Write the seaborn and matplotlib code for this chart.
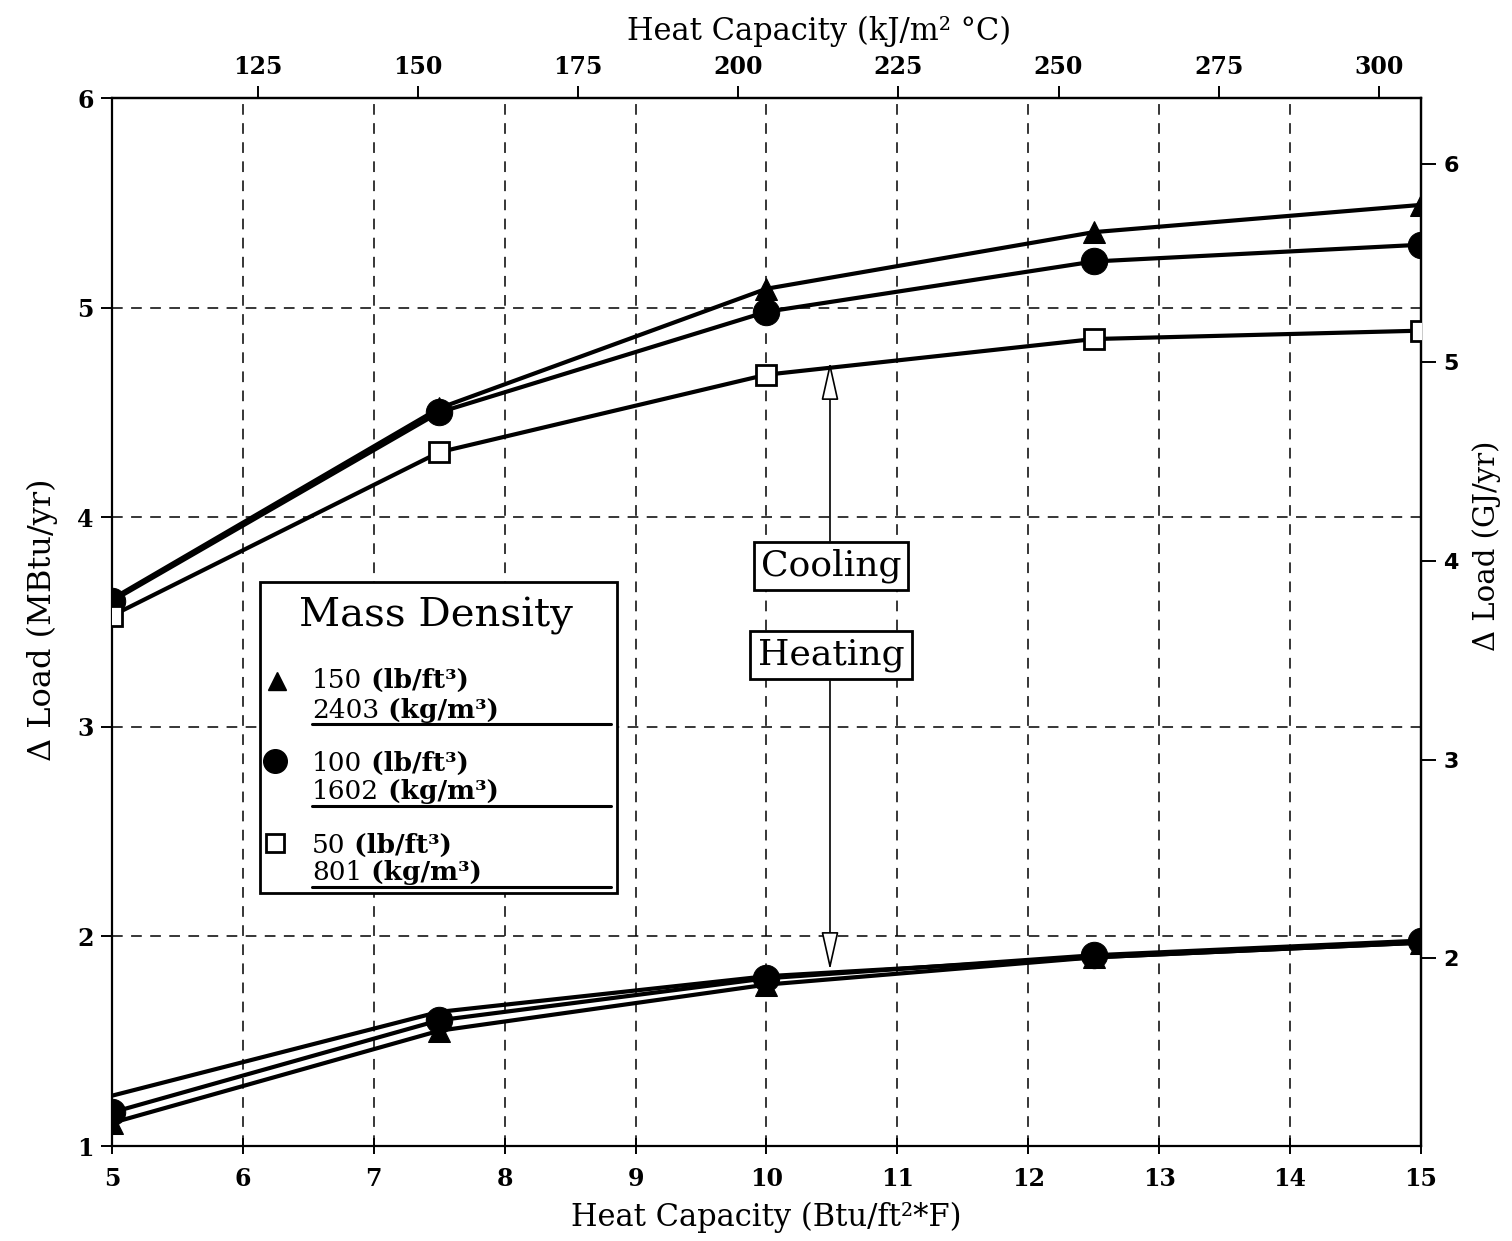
import matplotlib
matplotlib.use("Agg")
import matplotlib.pyplot as plt
import seaborn as sns
from matplotlib.patches import Rectangle
from matplotlib.lines import Line2D

# ---- data -------------------------------------------------------------
heat_capacity = [5, 7.5, 10, 12.5, 15]          # Btu/ft2*F

cooling_150 = [3.61, 4.52, 5.09, 5.36, 5.49]    # MBtu/yr
cooling_100 = [3.60, 4.50, 4.98, 5.22, 5.30]
cooling_50 = [3.53, 4.31, 4.68, 4.85, 4.89]

heating_150 = [1.11, 1.55, 1.77, 1.90, 1.97]
heating_100 = [1.16, 1.60, 1.80, 1.91, 1.98]
heating_50 = [1.24, 1.64, 1.81, 1.90, 1.97]

density_ip = ["150", "100", "50"]
density_si = ["2403", "1602", "801"]

x_ticks = [5, 6, 7, 8, 9, 10, 11, 12, 13, 14, 15]
y_ticks = [1, 2, 3, 4, 5, 6]
si_x_ticks = [125, 150, 175, 200, 225, 250, 275, 300]
si_y_ticks = [2, 3, 4, 5, 6]

KJ_PER_BTU = 20.44     # kJ/m2C per Btu/ft2F
GJ_PER_MBTU = 1.055

# ---- style ------------------------------------------------------------
sns.set_theme(style="ticks")
plt.rcParams["font.family"] = ["DejaVu Serif"]
plt.rcParams.update({
    "axes.linewidth": 1.6,
    "axes.edgecolor": "black",
    "text.color": "black",
    "axes.labelcolor": "black",
    "xtick.color": "black",
    "ytick.color": "black",
})

fig = plt.figure(figsize=(15.12, 12.41), dpi=100)
ax = fig.add_axes([0.07407, 0.07655, 0.86574, 0.84448])
fig.patch.set_facecolor("white")
ax.set_facecolor("white")

ax.set_xlim(5, 15)
ax.set_ylim(1, 6)
ax.set_xticks(x_ticks)
ax.set_yticks(y_ticks)
ax.grid(True, color="black", lw=1.1, ls=(0, (7, 5.5)))
ax.set_axisbelow(True)

styles = {
    "150": dict(marker="^", markersize=16, markerfacecolor="black", markeredgecolor="black"),
    "100": dict(marker="o", markersize=19, markerfacecolor="black", markeredgecolor="black"),
    "50": dict(marker="s", markersize=15, markerfacecolor="white",
               markeredgecolor="black", markeredgewidth=2),
}

series = [
    ("150", cooling_150, True), ("100", cooling_100, True), ("50", cooling_50, True),
    ("150", heating_150, True), ("100", heating_100, True), ("50", heating_50, False),
]
for i, (key, vals, show_marker) in enumerate(series):
    kw = dict(styles[key]) if show_marker else {}
    sns.lineplot(x=heat_capacity, y=vals, ax=ax, color="black", lw=3,
                 legend=False, zorder=3 + i * 0.1, **kw)

# ---- ticks & labels ---------------------------------------------------
ax.tick_params(axis="x", direction="inout", length=12, width=1.4, pad=9,
               labelsize=17)
ax.tick_params(axis="y", direction="out", length=8, width=1.4, pad=5,
               labelsize=17)
ax.set_xticklabels([str(v) for v in x_ticks], fontweight="bold")
ax.set_yticklabels([str(v) for v in y_ticks], fontweight="bold")

ax.set_xlabel("Heat Capacity (Btu/ft²*F)", fontsize=22)
ax.xaxis.set_label_coords(0.4996, -0.053)
ax.set_ylabel("Δ Load (MBtu/yr)", fontsize=23)
ax.yaxis.set_label_coords(-0.041, 0.502)

top = ax.secondary_xaxis("top", functions=(lambda x: x * KJ_PER_BTU,
                                           lambda x: x / KJ_PER_BTU))
top.set_xticks(si_x_ticks)
top.set_xticklabels([str(v) for v in si_x_ticks], fontweight="bold")
top.tick_params(direction="out", length=9, width=1.4, pad=5, labelsize=17)
ax.text(0.540, 1.064, "Heat Capacity (kJ/m² °C)", transform=ax.transAxes,
        ha="center", va="center", fontsize=22)

right = ax.secondary_yaxis("right", functions=(lambda y: y * GJ_PER_MBTU,
                                               lambda y: y / GJ_PER_MBTU))
right.set_yticks(si_y_ticks)
right.set_yticklabels([str(v) for v in si_y_ticks], fontweight="bold",
                      family=["DejaVu Sans"])
right.tick_params(direction="out", length=11, width=1.4, pad=5, labelsize=16)
ax.text(1.050, 0.573, "Δ Load (GJ/yr)", transform=ax.transAxes,
        rotation=90, ha="center", va="center", fontsize=21)


# ---- helper: figure pixel position to data coordinates ----------------
def pos(xp, yp):
    return 5 + (xp - 112) / 130.9, 1 + (1146 - yp) / 209.6


# ---- Cooling / Heating call-outs --------------------------------------
box = dict(boxstyle="square,pad=0.2", fc="white", ec="black", lw=2)
ax.text(*pos(831, 566), "Cooling", ha="center", va="center", fontsize=26,
        bbox=box, zorder=6)
ax.text(*pos(831, 655), "Heating", ha="center", va="center", fontsize=26,
        bbox=box, zorder=6)

arrow = dict(arrowstyle="-|>,head_length=2.0,head_width=0.45", fc="white",
             ec="black", lw=1.2, shrinkA=0, shrinkB=0)
ax.annotate("", xy=pos(830, 362), xytext=pos(830, 541),
            arrowprops=arrow, zorder=5)
ax.annotate("", xy=pos(830, 970), xytext=pos(830, 681),
            arrowprops=arrow, zorder=5)

# ---- Mass Density key -------------------------------------------------
x0, y0 = pos(260, 893)
x1, y1 = pos(617, 582)
ax.add_patch(Rectangle((x0, y0), x1 - x0, y1 - y0, fc="white", ec="black",
                       lw=2, zorder=7))
ax.text(*pos(436, 616), "Mass Density", ha="center", va="center",
        fontsize=29, zorder=8)

key_rows = [
    ("150", (277, 681), 688, 718, 724),
    ("100", (275, 761), 771, 799, 806),
    ("50", (275, 843), 853, 880, 887),
]
for (key, mpos, b1, b2, ul), ip, si in zip(key_rows, density_ip, density_si):
    st = dict(styles[key])
    st["markersize"] = {"150": 13, "100": 17, "50": 13}[key]
    mx, my = pos(*mpos)
    ax.add_line(Line2D([mx], [my], ls="none", zorder=8, clip_on=False, **st))
    t1 = ax.text(*pos(312, b1), ip, fontsize=19, va="baseline", zorder=8)
    ax.annotate(" (lb/ft³)", xy=(1, 0), xycoords=t1, va="bottom",
                fontsize=19, fontweight="bold", zorder=8)
    t2 = ax.text(*pos(312, b2), si, fontsize=19, va="baseline", zorder=8)
    ax.annotate(" (kg/m³)", xy=(1, 0), xycoords=t2, va="bottom",
                fontsize=19, fontweight="bold", zorder=8)
    ua, ub = pos(312, ul), pos(611, ul)
    ax.add_line(Line2D([ua[0], ub[0]], [ua[1], ub[1]], color="black", lw=2.2,
                       zorder=8))

fig.savefig("out.png", dpi=100, facecolor="white")
